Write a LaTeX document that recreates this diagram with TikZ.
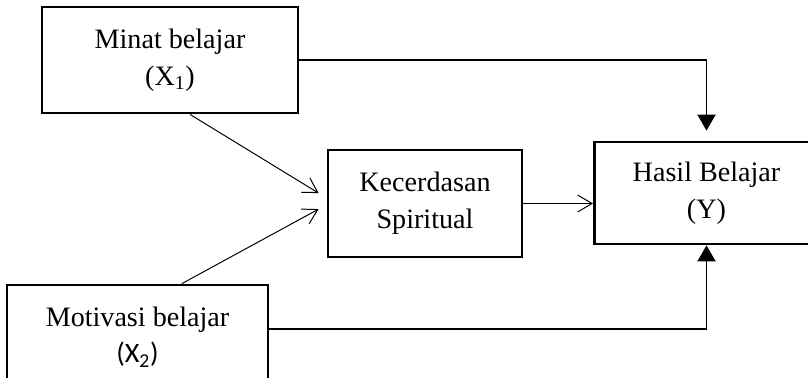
\documentclass[tikz,border=0pt]{standalone}
\usepackage{fontspec}
\setmainfont{Liberation Serif}
\newfontfamily\carlito{Carlito}
\usepackage{tikz}
\usetikzlibrary{arrows.meta,calc}

\begin{document}
\begin{tikzpicture}[baseline=0,
  kotak/.style={draw,line width=2pt,inner sep=0pt,align=center,font=\fontsize{20}{26}\selectfont},
  panah/.style={line width=0.7pt,-{Straight Barb[length=3.6mm,width=4.2mm,line width=0.7pt]}},
  panahtebal/.style={line width=1.4pt,-{Triangle[length=4mm,width=4.5mm]}}]
\clip (0,0) rectangle (20.2,9.425);
\useasboundingbox (0,0) rectangle (20.2,9.425);
\node[kotak,minimum width=6.4cm,minimum height=2.65cm] (minat) at (4.25,7.925) {Minat belajar\\(X\textsubscript{1})};
\node[kotak,minimum width=6.525cm,minimum height=2.6cm] (motivasi) at (3.4375,1.0) {Motivasi belajar\\{\carlito (X\textsubscript{2})}};
\node[kotak,minimum width=5.6cm,minimum height=2.55cm] (hasil) at (17.6625,4.6) {Hasil Belajar\\(Y)};
\node[kotak,minimum width=4.85cm,minimum height=2.675cm] (kecerdasan) at (10.625,4.3375) {Kecerdasan\\Spiritual};
\draw[panah] ($(minat.south)+(0.5,0)$) -- ($(kecerdasan.west)+(-0.2,0.26)$) ;
\draw[panah] ($(motivasi.north)+(1.11,0)$) -- ($(kecerdasan.west)+(-0.2,-0.14)$) ;
\draw[panah] (kecerdasan.east) -- (kecerdasan.east -| hasil.west) ;
\draw[panahtebal,shorten >=0.25cm] (minat.east) -| (hasil.north) ;
\draw[panahtebal] ($(motivasi.east)+(0,0.2)$) -| (hasil.south) ;
\end{tikzpicture}
\end{document}
